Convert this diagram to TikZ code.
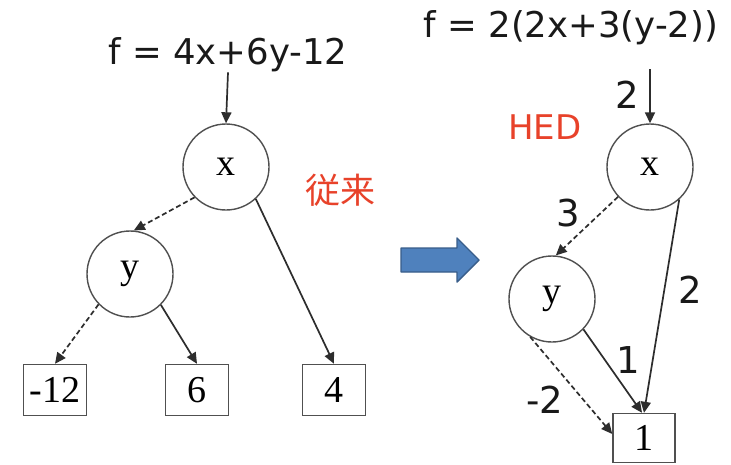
\documentclass[tikz,border=0pt]{standalone}
\usepackage{fontspec}
\setmainfont{Liberation Serif}
\newfontfamily\sansf{DejaVu Sans}
\newfontfamily\cjk{Noto Sans CJK JP}
\usetikzlibrary{arrows.meta}
\definecolor{linegray}{RGB}{80,80,80}
\definecolor{edgegray}{RGB}{45,45,45}
\definecolor{hedred}{RGB}{232,66,42}
\definecolor{arrowblue}{RGB}{79,129,189}
\definecolor{arrowedge}{RGB}{56,93,138}
\begin{document}
\begin{tikzpicture}[x=1pt,y=-1pt,
  circ/.style={circle, draw=linegray, line width=1.4pt, minimum size=86pt, inner sep=0pt,
    font=\rmfamily\fontsize{38}{40}\selectfont},
  leaf/.style={rectangle, draw=linegray, line width=1.4pt, minimum width=63pt, minimum height=51pt,
    inner sep=0pt, font=\rmfamily\fontsize{38}{40}\selectfont},
  edge/.style={draw=edgegray, line width=1.7pt, -{Triangle[length=11pt,width=10pt]}},
  dedge/.style={edge, dash pattern=on 5pt off 3pt},
  titletext/.style={font=\sansf\fontsize{35.5}{40}\selectfont, inner sep=0pt, text=black!90},
  lbl/.style={font=\sansf\fontsize{37}{40}\selectfont, inner sep=0pt, text=black!90},
  redtext/.style={inner sep=0pt, text=hedred}
]
\useasboundingbox[fill=white] (0,0) rectangle (731,464);

% ---------- left: conventional ----------
\node[titletext] (tL) at (228,55) {f = 4x+6y-12};
\node[circ] (xL) at (226,167) {x};
\node[circ] (yL) at (130,274) {y};
\node[leaf] (m12) at (55,390) {-12};
\node[leaf] (six) at (197,390) {6};
\node[leaf] (four) at (334,390) {4};
\node[redtext, font=\cjk\fontsize{35}{40}\selectfont] (conv) at (340,190) {従来};

\draw[edge] (tL.south) -- (xL.north);
\draw[dedge] (xL.224) -- (yL.85);
\draw[dedge] (yL.224) -- (m12.north);
\draw[edge] (yL.-45) -- (six.north);
\draw[edge] (xL.-47) -- (four.north);

% ---------- middle arrow ----------
\filldraw[fill=arrowblue, draw=arrowedge, line width=1.4pt, line join=round]
  (401,248) -- (457,248) -- (457,238) -- (479,260) -- (457,282) -- (457,272) -- (401,272) -- cycle;

% ---------- right: HED ----------
\node[titletext] (tR) at (571,28) {f = 2(2x+3(y-2))};
\node[redtext, font=\sansf\fontsize{34}{40}\selectfont] (hed) at (545,127) {HED};
\node[circ] (xR) at (650,167) {x};
\node[circ] (yR) at (552,299) {y};
\node[leaf, minimum width=62pt, minimum height=49pt] (one) at (644,438) {1};
\coordinate (a0) at (650,69);

\draw[edge] (a0) -- (xR.north);
\draw[dedge] (xR.223) -- (yR.85);
\draw[edge] (xR.-48) -- (one.north);
\draw[edge] (yR.-44) -- ([xshift=-2pt]one.north);
\draw[dedge] (yR.-120) -- ([yshift=4pt]one.west);
\node[lbl] (l2a) at (627,95) {2};
\node[lbl] (l3) at (568,213) {3};
\node[lbl] (l2) at (690,290) {2};
\node[lbl] (l1) at (628,360) {1};
\node[lbl] (lm2) at (545,400) {-2};
\end{tikzpicture}
\end{document}
